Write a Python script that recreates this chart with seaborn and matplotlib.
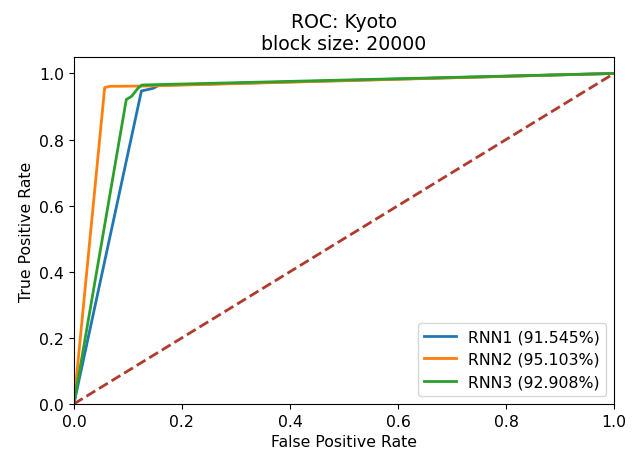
import matplotlib
matplotlib.use("Agg")
import matplotlib.pyplot as plt
import seaborn as sns
import pandas as pd

# Data
rnn1_fpr = [0.0, 0.125, 0.147, 0.157, 1.0]
rnn1_tpr = [0.0, 0.947, 0.955, 0.964, 1.0]
rnn2_fpr = [0.0, 0.057, 0.066, 0.135, 1.0]
rnn2_tpr = [0.0, 0.957, 0.961, 0.962, 1.0]
rnn3_fpr = [0.0, 0.097, 0.107, 0.119, 0.126, 1.0]
rnn3_tpr = [0.0, 0.921, 0.931, 0.956, 0.965, 1.0]
labels = ["RNN1 (91.545%)", "RNN2 (95.103%)", "RNN3 (92.908%)"]
diag = [0.0, 1.0]

frames = []
for lab, fx, ty in zip(labels, [rnn1_fpr, rnn2_fpr, rnn3_fpr], [rnn1_tpr, rnn2_tpr, rnn3_tpr]):
    frames.append(pd.DataFrame({"fpr": fx, "tpr": ty, "model": lab}))
df = pd.concat(frames, ignore_index=True)

plt.rcParams["font.size"] = 11.3

fig = plt.figure(figsize=(6.37, 4.56), dpi=100)
ax = fig.add_axes([0.116, 0.112, 0.848, 0.761])

sns.lineplot(data=df, x="fpr", y="tpr", hue="model", sort=False, estimator=None,
             palette=["#1f77b4", "#ff7f0e", "#2ca02c"], linewidth=2, ax=ax)
ax.plot(diag, diag, linestyle="--", color="#b03a2e", linewidth=2)

ax.set_xlim(0, 1)
ax.set_ylim(0, 1.05)
ax.set_xlabel("False Positive Rate")
ax.set_ylabel("True Positive Rate")
ax.set_title("ROC: Kyoto\nblock size: 20000")
ax.legend(loc="lower right", title=None)

fig.savefig("out.png", dpi=100)
